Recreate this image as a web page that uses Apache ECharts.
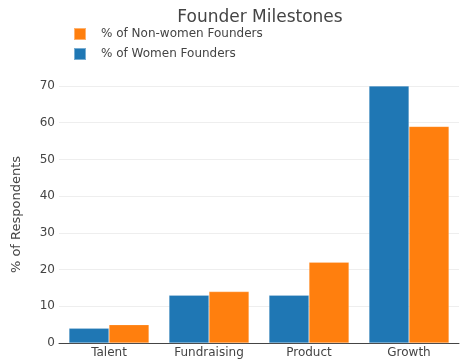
<!DOCTYPE html>
<html>
<head>
<meta charset="utf-8">
<script src="https://cdn.jsdelivr.net/npm/echarts@6/dist/echarts.min.js"></script>
<style>html,body{margin:0;padding:0;background:#fff}#c{width:467px;height:362px}</style>
</head>
<body>
<div id="c"></div>
<script>
const categories = ['Talent', 'Fundraising', 'Product', 'Growth'];
const womenFounders = [4, 13, 13, 70];
const nonWomenFounders = [5, 14, 22, 59];
const yTicks = [0, 10, 20, 30, 40, 50, 60, 70];

const FONT = '"DejaVu Sans", Verdana, sans-serif';
const chart = echarts.init(document.getElementById('c'), null, {renderer: 'canvas'});
chart.setOption({
  animation: false,
  textStyle: {fontFamily: FONT},
  title: {
    text: 'Founder Milestones',
    left: 260, top: 9, textAlign: 'center', padding: 0,
    textStyle: {fontFamily: FONT, fontSize: 17, fontWeight: 'normal', color: '#444'}
  },
  legend: {
    orient: 'vertical', left: 73, top: 27, padding: 0,
    itemWidth: 12, itemHeight: 12, itemGap: 6,
    icon: 'rect',
    data: ['% of Non-women Founders', '% of Women Founders'],
    textStyle: {fontFamily: FONT, fontSize: 12, color: '#444', padding: [0, 0, 0, 10]}
  },
  grid: {left: 59, right: 8, top: 86, bottom: 19, containLabel: false},
  xAxis: {
    type: 'category', data: categories,
    axisLine: {lineStyle: {color: '#444', width: 1}},
    axisTick: {show: false},
    axisLabel: {fontFamily: FONT, fontSize: 12, color: '#444', margin: 4}
  },
  yAxis: {
    type: 'value', min: yTicks[0], max: yTicks[yTicks.length - 1], interval: 10,
    name: '% of Respondents', nameLocation: 'middle', nameGap: 36, nameRotate: 90,
    nameTextStyle: {fontFamily: FONT, fontSize: 13, color: '#444'},
    axisLine: {show: false}, axisTick: {show: false},
    axisLabel: {fontFamily: FONT, fontSize: 12, color: '#444', margin: 4},
    splitLine: {lineStyle: {color: '#eee', width: 1}}
  },
  series: [
    {name: '% of Women Founders', type: 'bar', data: womenFounders,
     barGap: '0%', barCategoryGap: '20%',
     itemStyle: {color: '#1f77b4', borderColor: 'rgba(255,255,255,0.4)', borderWidth: 0.5}},
    {name: '% of Non-women Founders', type: 'bar', data: nonWomenFounders,
     barGap: '0%', barCategoryGap: '20%',
     itemStyle: {color: '#ff7f0e', borderColor: 'rgba(255,255,255,0.4)', borderWidth: 0.5}}
  ]
});
</script>
</body>
</html>
